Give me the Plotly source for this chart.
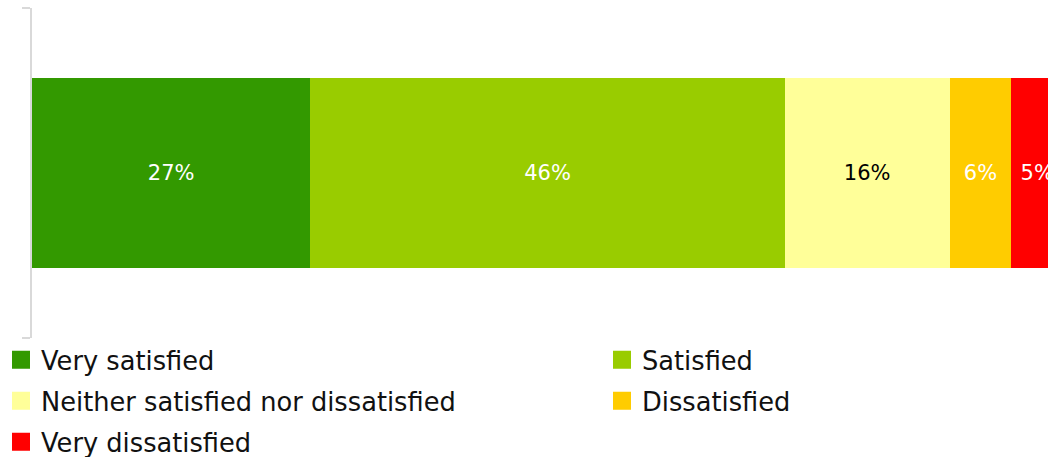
import plotly.graph_objects as go

# Satisfaction shares (percent of respondents)
categories = [
    "Very satisfied",
    "Satisfied",
    "Neither satisfied nor dissatisfied",
    "Dissatisfied",
    "Very dissatisfied",
]
shares = [27, 46, 16, 6, 5]
colors = ["#339900", "#99cc00", "#ffff99", "#ffcc00", "#ff0000"]
label_colors = ["#ffffff", "#ffffff", "#000000", "#ffffff", "#ffffff"]

FONT = "DejaVu Sans"
W, H = 1048, 457
M_L, M_R, M_T, M_B = 32, 0, 8, 119
plot_w = W - M_L - M_R
plot_h = H - M_T - M_B
px_per_pct = 10.31

# legend grid: two columns, rows read left to right (pixel positions)
legend_cols_px = [1, 602]
legend_rows_px = [360, 401, 442]

fig = go.Figure()

for name, val, col, tcol in zip(categories, shares, colors, label_colors):
    fig.add_trace(go.Bar(
        x=[val], y=[0], orientation="h", name=name,
        marker=dict(color=col, line=dict(width=0)),
        width=0.576,
        text=[f"{val}%"], textposition="inside", insidetextanchor="middle",
        textangle=0, textfont=dict(family=FONT, size=21, color=tcol),
        constraintext="none",
        showlegend=False, hoverinfo="skip",
    ))

# one legend box per entry, each holding a square swatch
legend_layouts = {}
for i, (name, col) in enumerate(zip(categories, colors)):
    key = "legend" if i == 0 else f"legend{i + 1}"
    fig.add_trace(go.Scatter(
        x=[None], y=[None], mode="markers", name=name,
        marker=dict(symbol="square", size=16, color=col,
                    line=dict(color=col, width=2)),
        legend=key, showlegend=True,
    ))
    px = legend_cols_px[i % 2]
    py = legend_rows_px[i // 2]
    legend_layouts[key] = dict(
        orientation="v", xanchor="left", yanchor="middle",
        x=(px - M_L) / plot_w, y=(M_T + plot_h - py) / plot_h,
        bgcolor="rgba(0,0,0,0)",
        font=dict(family=FONT, size=25.7, color="#111111"),
        itemclick=False, itemdoubleclick=False,
    )

fig.update_layout(
    width=W, height=H,
    margin=dict(l=M_L, r=M_R, t=M_T, b=M_B, pad=0, autoexpand=False),
    paper_bgcolor="white", plot_bgcolor="white",
    barmode="stack",
    font=dict(family=FONT),
    xaxis=dict(range=[0, plot_w / px_per_pct], visible=False, fixedrange=True),
    yaxis=dict(
        range=[-0.5, 0.5], showgrid=False, zeroline=False,
        showline=True, linecolor="#d9d9d9", linewidth=2,
        ticks="outside", tickvals=[-0.5, 0.5], ticklen=8, tickwidth=2,
        tickcolor="#d9d9d9", showticklabels=False, fixedrange=True,
    ),
    **legend_layouts,
)

fig.write_html("out.html")
